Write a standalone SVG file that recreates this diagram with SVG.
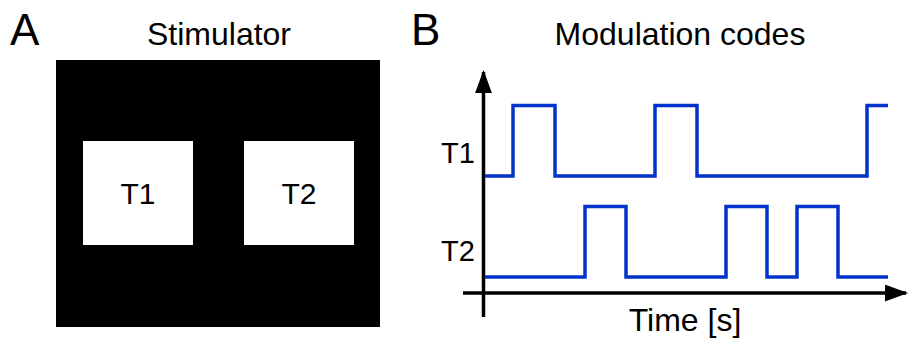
<svg xmlns="http://www.w3.org/2000/svg" width="912" height="338" viewBox="0 0 912 338">
<style>
text{font-family:"Liberation Sans",Arial,sans-serif;fill:#000}
.sig{fill:none;stroke:#0033cc;stroke-width:3.5}
.ax{stroke:#000;stroke-width:3.5;fill:none}
</style>
<defs>
<marker id="ah" markerWidth="7" markerHeight="5" refX="6" refY="2.4" orient="auto" markerUnits="strokeWidth"><path d="M0,0 L6.6,2.4 L0,4.8 z" fill="#000"/></marker>
</defs>
<rect width="912" height="338" fill="#fff"/>
<text x="10" y="45" font-size="44">A</text>
<text x="219" y="45" font-size="32" text-anchor="middle">Stimulator</text>
<g id="stimulator">
<rect x="56" y="60" width="324" height="267" fill="#000"/>
</g>
<g id="t1box">
<rect x="83" y="141" width="110" height="104" fill="#fff"/>
<text x="138" y="204" font-size="30" text-anchor="middle">T1</text>
</g>
<g id="t2box">
<rect x="244" y="141" width="110" height="104" fill="#fff"/>
<text x="299" y="204" font-size="30" text-anchor="middle">T2</text>
</g>
<text x="411" y="45" font-size="44">B</text>
<text x="680" y="45" font-size="32" text-anchor="middle">Modulation codes</text>
<g id="connectors">
<line class="ax" x1="483.5" y1="317" x2="483.5" y2="72" marker-end="url(#ah)"/>
<line class="ax" x1="463" y1="293" x2="906" y2="293" marker-end="url(#ah)"/>
</g>
<g id="t1signal">
<text x="458" y="163" font-size="29" text-anchor="middle">T1</text>
<polyline class="sig" points="485,176 513,176 513,105.5 555,105.5 555,176 655,176 655,105.5 697,105.5 697,176 867,176 867,105.5 888,105.5"/>
</g>
<g id="t2signal">
<text x="458" y="261" font-size="29" text-anchor="middle">T2</text>
<polyline class="sig" points="485,277 585,277 585,206.5 626,206.5 626,277 726,277 726,206.5 767,206.5 767,277 797,277 797,206.5 838,206.5 838,277 888,277"/>
</g>
<text x="685" y="331" font-size="32" text-anchor="middle">Time [s]</text>
</svg>
